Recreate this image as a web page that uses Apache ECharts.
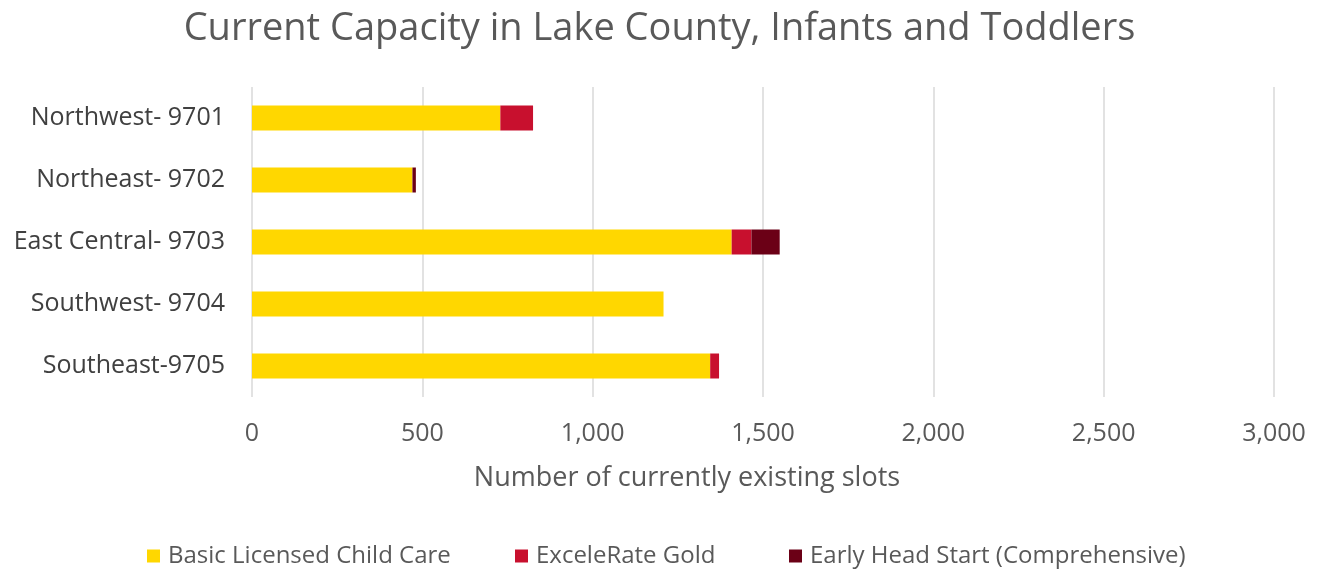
<!DOCTYPE html>
<html>
<head>
<meta charset="utf-8">
<style>
  html, body { margin: 0; padding: 0; background: #fff; }
  #chart { width: 1319px; height: 573px; }
</style>
<script src="https://cdn.jsdelivr.net/npm/echarts@6/dist/echarts.min.js"></script>
</head>
<body>
<div id="chart"></div>
<script>
// Regions (top to bottom as displayed)
const regions = ['Northwest- 9701', 'Northeast- 9702', 'East Central- 9703', 'Southwest- 9704', 'Southeast-9705'];

// Infant and toddler slots by program type
const basicLicensed = [729, 471, 1408, 1208, 1345];
const exceleRateGold = [96, 0, 58, 0, 26];
const earlyHeadStart = [0, 10, 83, 0, 0];

const seriesNames = ['Basic Licensed Child Care', 'ExceleRate Gold', 'Early Head Start (Comprehensive)'];
const seriesColors = ['#FFD700', '#C8102E', '#6B0016'];

const textColor = '#595959';
const fontFamily = '"Open Sans", "Noto Sans", sans-serif';

const chart = echarts.init(document.getElementById('chart'));

const values = [basicLicensed, exceleRateGold, earlyHeadStart];

// one legend block per series so each entry can sit at its own offset
const legendLefts = [142, 510, 784];
const legends = seriesNames.map((name, i) => ({
  top: 539,
  left: legendLefts[i],
  itemWidth: 13,
  itemHeight: 13,
  icon: 'rect',
  textStyle: { fontFamily: fontFamily, fontSize: 24, color: textColor, padding: [0, 0, 0, 3] },
  data: [name]
}));

chart.setOption({
  animation: false,
  textStyle: { fontFamily: fontFamily, color: textColor },
  title: {
    text: 'Current Capacity in Lake County, Infants and Toddlers',
    left: 'center',
    top: 5,
    textStyle: { fontFamily: fontFamily, fontSize: 38, fontWeight: 'normal', color: textColor }
  },
  legend: legends,
  grid: {
    left: 252,
    right: 45,
    top: 87,
    bottom: 176,
    containLabel: false
  },
  xAxis: {
    type: 'value',
    min: 0,
    max: 3000,
    interval: 500,
    name: 'Number of currently existing slots',
    nameLocation: 'middle',
    nameGap: 68,
    nameTextStyle: { fontFamily: fontFamily, fontSize: 27, color: textColor, padding: [0, 152, 0, 0] },
    axisLine: { show: false },
    axisTick: { show: false },
    axisLabel: {
      fontFamily: fontFamily,
      fontSize: 25,
      color: textColor,
      margin: 24,
      formatter: v => v.toLocaleString('en-US')
    },
    splitLine: { show: true, lineStyle: { color: '#d9d9d9', width: 1.5 } }
  },
  yAxis: {
    type: 'category',
    inverse: true,
    data: regions,
    axisLine: { show: false },
    axisTick: { show: false },
    axisLabel: { fontFamily: fontFamily, fontSize: 25, color: '#404040', margin: 27 }
  },
  series: seriesNames.map((name, i) => ({
    name: name,
    type: 'bar',
    stack: 'total',
    barWidth: 25,
    itemStyle: { color: seriesColors[i] },
    data: values[i]
  }))
});
</script>
</body>
</html>
